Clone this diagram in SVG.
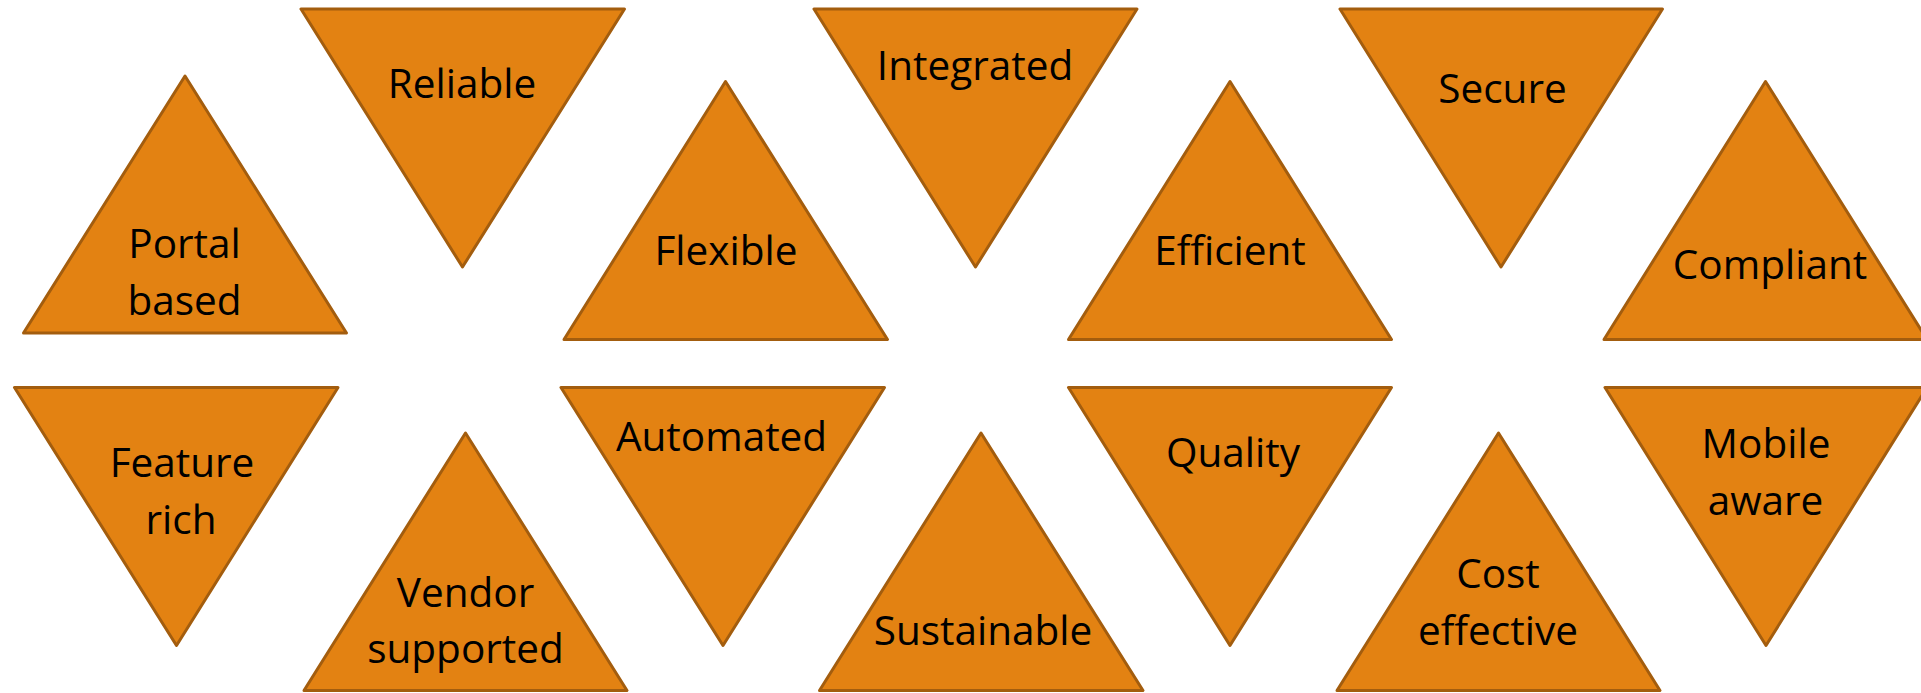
<svg xmlns="http://www.w3.org/2000/svg" width="1921" height="693" viewBox="0 0 1921 693">
<style>
.tri{fill:#E38212;stroke:#A35D0E;stroke-width:3;stroke-linejoin:round}
.lbl{font-family:"Open Sans","Noto Sans","Liberation Sans",sans-serif;font-size:40.5px;fill:#000;text-anchor:middle}
</style>
<rect width="1921" height="693" fill="#fff"/>
<g id="connectors"/>
<g id="portal-based"><polygon class="tri" points="185,76 346.5,333 23.5,333"/><text class="lbl" x="184.5" y="258">Portal</text><text class="lbl" x="184.5" y="315">based</text></g>
<g id="reliable"><polygon class="tri" points="301,9 624.5,9 462.5,267"/><text class="lbl" x="462" y="97.5">Reliable</text></g>
<g id="flexible"><polygon class="tri" points="725.5,81.5 887.5,339.5 564,339.5"/><text class="lbl" x="726" y="265">Flexible</text></g>
<g id="integrated"><polygon class="tri" points="814,9 1137,9 975.5,267"/><text class="lbl" x="975" y="80">Integrated</text></g>
<g id="efficient"><polygon class="tri" points="1230,81.5 1391.5,339.5 1068.5,339.5"/><text class="lbl" x="1230" y="265">Efficient</text></g>
<g id="secure"><polygon class="tri" points="1340,9 1662.5,9 1501,267"/><text class="lbl" x="1502.5" y="102.5">Secure</text></g>
<g id="compliant"><polygon class="tri" points="1765.5,81.5 1927,339.5 1604,339.5"/><text class="lbl" x="1770" y="278.5">Compliant</text></g>
<g id="feature-rich"><polygon class="tri" points="14.5,387.5 338,387.5 176.5,645.5"/><text class="lbl" x="182" y="476.5">Feature</text><text class="lbl" x="181" y="534">rich</text></g>
<g id="vendor-supported"><polygon class="tri" points="465.5,433 627,690.5 304,690.5"/><text class="lbl" x="465.5" y="606.5">Vendor</text><text class="lbl" x="465.5" y="663">supported</text></g>
<g id="automated"><polygon class="tri" points="561,387.5 884.5,387.5 723,645.5"/><text class="lbl" x="721.5" y="450.5">Automated</text></g>
<g id="sustainable"><polygon class="tri" points="981,433 1143,690.5 819.5,690.5"/><text class="lbl" x="983" y="644.5">Sustainable</text></g>
<g id="quality"><polygon class="tri" points="1068.5,387.5 1391.5,387.5 1230,645.5"/><text class="lbl" x="1233" y="466.5">Quality</text></g>
<g id="cost-effective"><polygon class="tri" points="1498.5,433 1660,690.5 1337,690.5"/><text class="lbl" x="1498" y="587.5">Cost</text><text class="lbl" x="1498" y="644.5">effective</text></g>
<g id="mobile-aware"><polygon class="tri" points="1605,387.5 1927,387.5 1766,645.5"/><text class="lbl" x="1766" y="457.5">Mobile</text><text class="lbl" x="1765.5" y="514.5">aware</text></g>
</svg>
